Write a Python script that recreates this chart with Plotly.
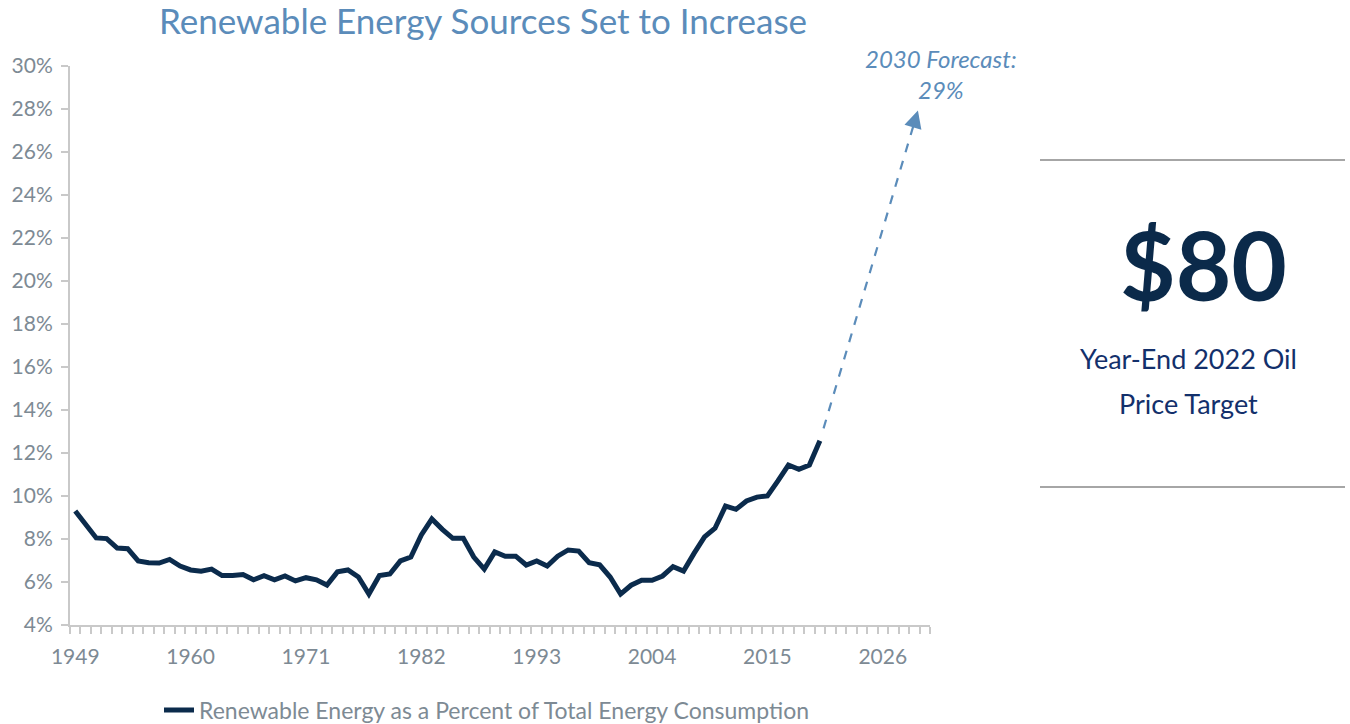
import numpy as np
import plotly.graph_objects as go

# Renewable energy share of total US energy consumption, 1949-2020 (%)
years = list(range(1949, 2021))
renewable_share = [
    9.30, 8.70, 8.05, 8.02, 7.58, 7.55, 6.98, 6.90, 6.88, 7.05,
    6.74, 6.56, 6.50, 6.60, 6.30, 6.30, 6.35, 6.10, 6.29, 6.10,
    6.28, 6.05, 6.20, 6.10, 5.86, 6.47, 6.56, 6.23, 5.44, 6.30,
    6.37, 6.98, 7.16, 8.19, 8.93, 8.45, 8.03, 8.03, 7.16, 6.60,
    7.40, 7.20, 7.20, 6.79, 6.98, 6.74, 7.20, 7.49, 7.44, 6.90,
    6.80, 6.23, 5.44, 5.85, 6.08, 6.08, 6.28, 6.71, 6.51, 7.33,
    8.10, 8.50, 9.53, 9.38, 9.77, 9.95, 10.00, 10.70, 11.44, 11.24,
    11.44, 12.57,
]

forecast_year = 2030
forecast_value = 29
axis_years = list(range(1949, 2031))
label_years = [1949, 1960, 1971, 1982, 1993, 2004, 2015, 2026]
y_ticks = list(range(4, 31, 2))

NAVY = "#0b2b4c"
STEEL = "#5b8cba"
GRAY_TXT = "#7d8a94"
AXIS_GRAY = "#c9c9c9"
FONT = "Lato, 'Open Sans', sans-serif"

fig = go.Figure()

fig.add_trace(go.Scatter(
    x=years, y=renewable_share, mode="lines",
    name="Renewable Energy as a Percent of Total Energy Consumption",
    line=dict(color=NAVY, width=5),
))

# Dashed forecast arrow from the last observation toward the 2030 forecast
x0, y0 = years[-1], renewable_share[-1]
x1, y1 = forecast_year, forecast_value
def along(t):
    return x0 + t * (x1 - x0), y0 + t * (y1 - y0)

sx, sy = along(0.035)
ex, ey = along(0.935)
hx, hy = along(0.90)
fig.add_shape(type="line", xref="x", yref="y", x0=sx, y0=sy, x1=hx, y1=hy,
              line=dict(color=STEEL, width=2.2, dash="dash"))
fig.add_annotation(x=ex, y=ey, ax=hx, ay=hy, xref="x", yref="y",
                   axref="x", ayref="y", text="", showarrow=True,
                   arrowhead=2, arrowsize=1.6, arrowwidth=2.2, arrowcolor=STEEL)

# Plot-area geometry (pixels) used to place paper-referenced text
W, H = 1350, 724
L, R, T, B = 70, 930, 66, 625
def px(xp):
    return (xp - L) / (R - L)
def py(yp):
    return (B - yp) / (B - T)

fig.add_annotation(x=px(941), y=py(74), xref="paper", yref="paper",
                   text="<i>2030 Forecast:<br>29%</i>", showarrow=False,
                   font=dict(family=FONT, size=24, color=STEEL),
                   align="center", xanchor="center", yanchor="middle")

fig.add_annotation(x=px(483), y=py(0), xref="paper", yref="paper",
                   text="Renewable Energy Sources Set to Increase", showarrow=False,
                   font=dict(family=FONT, size=35, color=STEEL),
                   xanchor="center", yanchor="top", yshift=3)

# Side panel: oil price target
for rule_y in (160, 487):
    fig.add_shape(type="line", xref="paper", yref="paper",
                  x0=px(1040), x1=px(1345), y0=py(rule_y), y1=py(rule_y),
                  line=dict(color="#a6a6a6", width=2))
fig.add_annotation(x=px(1203), y=py(263), xref="paper", yref="paper",
                   text="<b>$80</b>", showarrow=False,
                   font=dict(family=FONT, size=96, color="#0b2a4a"),
                   xanchor="center", yanchor="middle")
fig.add_annotation(x=px(1188), y=py(358), xref="paper", yref="paper",
                   text="Year-End 2022 Oil", showarrow=False,
                   font=dict(family=FONT, size=27, color="#13306b"),
                   xanchor="center", yanchor="middle")
fig.add_annotation(x=px(1188), y=py(403), xref="paper", yref="paper",
                   text="Price Target", showarrow=False,
                   font=dict(family=FONT, size=27, color="#13306b"),
                   xanchor="center", yanchor="middle")

fig.update_layout(
    width=W, height=H,
    margin=dict(l=L, r=W - R, t=T, b=H - B, autoexpand=False),
    paper_bgcolor="white", plot_bgcolor="white",
    font=dict(family=FONT, color=GRAY_TXT),
    showlegend=True,
    legend=dict(orientation="h", xref="container", yref="container",
                x=487 / W, y=(H - 710) / H, xanchor="center", yanchor="middle",
                font=dict(size=23, color=GRAY_TXT),
                bgcolor="rgba(0,0,0,0)"),
)

fig.update_xaxes(
    range=[axis_years[0] - 0.5, axis_years[-1] + 0.5],
    tickmode="array", tickvals=label_years, ticktext=[str(v) for v in label_years],
    ticks="", showgrid=False, zeroline=False,
    showline=True, linecolor=AXIS_GRAY, linewidth=2,
    tickfont=dict(size=21, color=GRAY_TXT), ticklabelstandoff=12,
    minor=dict(tickmode="array",
               tickvals=list(np.arange(axis_years[0] - 0.5, axis_years[-1] + 1.0, 1.0)),
               ticks="outside", ticklen=7, tickwidth=1.5, tickcolor=AXIS_GRAY,
               showgrid=False),
)
fig.update_yaxes(
    range=[4, 30], tickmode="array", tickvals=y_ticks,
    ticktext=[f"{v}%" for v in y_ticks],
    ticks="outside", ticklen=7, tickwidth=1.5, tickcolor=AXIS_GRAY,
    showgrid=False, zeroline=False,
    showline=True, linecolor=AXIS_GRAY, linewidth=2,
    tickfont=dict(size=21, color=GRAY_TXT), ticklabelstandoff=4,
)

fig.write_html("out.html")
